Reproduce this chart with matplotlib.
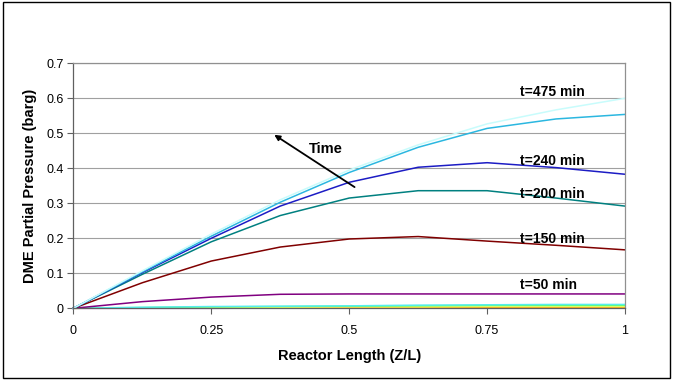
import numpy as np
import matplotlib.pyplot as plt
from matplotlib.patches import Rectangle

plt.rcParams['font.family'] = ['Liberation Sans', 'DejaVu Sans']

# reactor length positions (Z/L)
z = [0, 0.125, 0.25, 0.375, 0.5, 0.625, 0.75, 0.875, 1.0]

# DME partial pressure profiles (barg)
p_475 = [0, 0.107, 0.212, 0.310, 0.395, 0.467, 0.527, 0.567, 0.600]
p_300 = [0, 0.104, 0.206, 0.303, 0.388, 0.460, 0.514, 0.541, 0.554]
p_240 = [0, 0.102, 0.200, 0.292, 0.360, 0.403, 0.416, 0.402, 0.383]
p_200 = [0, 0.097, 0.190, 0.265, 0.315, 0.336, 0.336, 0.315, 0.292]
p_150 = [0, 0.073, 0.135, 0.175, 0.198, 0.205, 0.192, 0.180, 0.167]
p_50 = [0, 0.019, 0.032, 0.040, 0.041, 0.041, 0.041, 0.041, 0.041]
p_40 = [0, 0.003, 0.005, 0.006, 0.007, 0.009, 0.010, 0.011, 0.011]
p_30 = [0, 0.002, 0.004, 0.005, 0.006, 0.007, 0.008, 0.008, 0.008]
p_20 = [0, 0.001, 0.002, 0.003, 0.004, 0.004, 0.005, 0.005, 0.005]
p_10 = [0, 0.001, 0.001, 0.002, 0.002, 0.002, 0.002, 0.002, 0.002]
p_5 = [0, 0.0, 0.0, 0.0005, 0.0005, 0.0005, 0.0005, 0.0005, 0.0005]

series = [
    (p_5, '#CC00CC'),
    (p_10, '#FF9900'),
    (p_20, '#FFFF66'),
    (p_30, '#66FF66'),
    (p_40, '#55EEEE'),
    (p_50, '#800080'),
    (p_150, '#800000'),
    (p_200, '#008080'),
    (p_240, '#1C1CC4'),
    (p_300, '#2BB7E0'),
    (p_475, '#C8FCFC'),
]

labels = ['t=475 min', 't=240 min', 't=200 min', 't=150 min', 't=50 min']
label_y = [0.618, 0.421, 0.326, 0.197, 0.067]

fig = plt.figure(figsize=(6.79, 3.8), dpi=100)
ax = fig.add_axes([0.108, 0.1887, 0.8125, 0.6447])

for vals, col in series:
    ax.plot(z, vals, color=col, lw=1.1, clip_on=False)

ax.set_xlim(0, 1)
ax.set_ylim(0, 0.7)
ax.set_xticks([0, 0.25, 0.5, 0.75, 1])
ax.set_xticklabels(['0', '0.25', '0.5', '0.75', '1'])
ax.set_yticks(np.arange(0, 0.71, 0.1))
ax.set_yticklabels(['0', '0.1', '0.2', '0.3', '0.4', '0.5', '0.6', '0.7'])
ax.yaxis.grid(True, color='#A0A0A0', lw=0.8)
ax.set_axisbelow(True)
for s in ['top', 'right']:
    ax.spines[s].set_color('#909090')
    ax.spines[s].set_linewidth(0.9)
for s in ['left', 'bottom']:
    ax.spines[s].set_color('#606060')
    ax.spines[s].set_linewidth(0.9)
ax.tick_params(axis='both', direction='out', length=4, width=0.8,
               color='#606060', labelsize=9, pad=3)
ax.tick_params(axis='x', pad=8)

ax.set_xlabel('Reactor Length (Z/L)', fontsize=10.5, fontweight='bold', labelpad=9)
ax.set_ylabel('DME Partial Pressure (barg)', fontsize=10.5, fontweight='bold', labelpad=7)

for lab, ly in zip(labels, label_y):
    ax.text(0.81, ly, lab, fontsize=10, fontweight='bold', va='center', ha='left')

ax.annotate('', xy=(0.360, 0.5), xytext=(0.514, 0.342),
            arrowprops=dict(arrowstyle='-|>', color='black', lw=1.3,
                            mutation_scale=8))
ax.text(0.458, 0.455, 'Time', fontsize=10.5, fontweight='bold', ha='center', va='center')

fig.patches.append(Rectangle((3 / 679, 2 / 380), 667 / 679, 376 / 380,
                             transform=fig.transFigure, fill=False,
                             edgecolor='black', lw=1.0))

fig.savefig('out.png', dpi=100)
